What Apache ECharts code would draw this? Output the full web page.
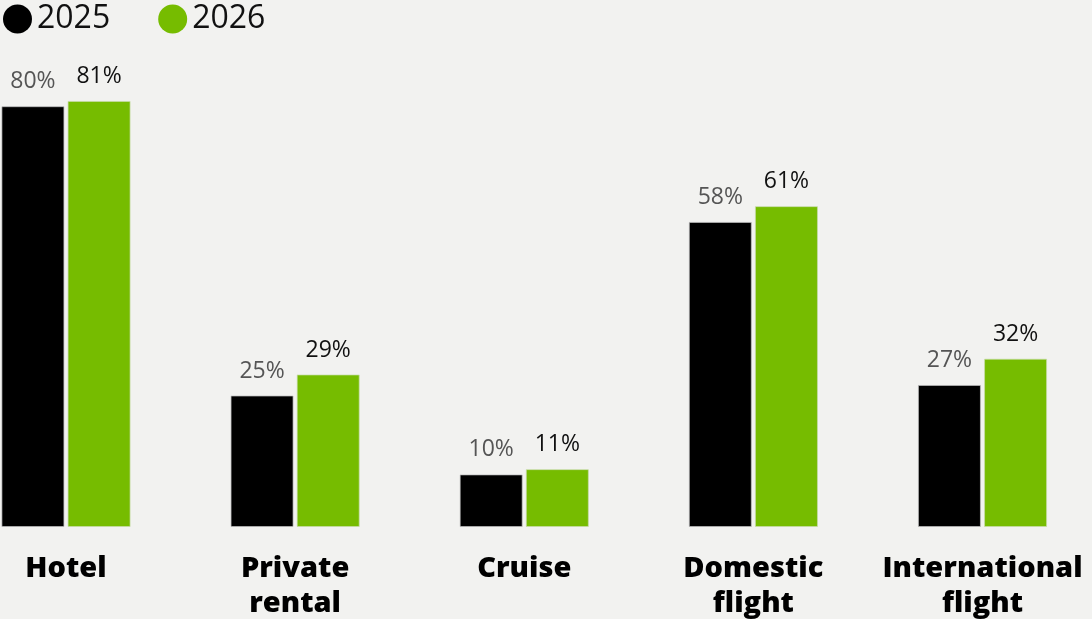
<!DOCTYPE html>
<html><head><meta charset="utf-8">
<script src="https://cdn.jsdelivr.net/npm/echarts@6/dist/echarts.min.js"></script>
<style>html,body{margin:0;padding:0;background:#f2f2f0;}#c{width:1092px;height:619px;}</style>
</head><body><div id="c"></div>
<script>
const categories = ['Hotel', 'Private\nrental', 'Cruise', 'Domestic\nflight', 'International\nflight'];
const seriesNames = ['2025', '2026'];
const values2025 = [80, 25, 10, 58, 27];
const values2026 = [81, 29, 11, 61, 32];

const chart = echarts.init(document.getElementById('c'));
const FONT = '"Open Sans", sans-serif';
chart.setOption({
  backgroundColor: '#f2f2f0',
  animation: false,
  textStyle: { fontFamily: FONT },
  legend: {
    left: 3, top: 3, padding: 0, icon: 'circle', itemWidth: 29, itemHeight: 29, itemGap: 48,
    itemStyle: { borderWidth: 0 },
    textStyle: { fontSize: 32, color: '#111', fontFamily: FONT },
    data: seriesNames
  },
  grid: { left: 66, right: 109.5, top: 1, height: 526, containLabel: false, outerBoundsMode: 'none' },
  xAxis: {
    type: 'category', data: categories, boundaryGap: false,
    axisLine: { show: false }, axisTick: { show: false }, splitLine: { show: false },
    axisLabel: { fontSize: 29, fontWeight: 800, color: '#000', lineHeight: 35, margin: 24, interval: 0, fontFamily: FONT }
  },
  yAxis: { type: 'value', min: 0, max: 100, show: false, splitLine: { show: false } },
  series: [
    { name: seriesNames[0], type: 'bar', data: values2025, barWidth: 63, barGap: '5%', clip: false,
      itemStyle: { color: '#000', borderColor: 'rgba(190,190,190,0.7)', borderWidth: 1 },
      label: { show: true, position: 'top', distance: 13, formatter: '{c}%', fontSize: 23, color: '#555', fontFamily: FONT } },
    { name: seriesNames[1], type: 'bar', data: values2026, barWidth: 63, clip: false,
      itemStyle: { color: '#76bc00', borderColor: 'rgba(200,220,170,0.7)', borderWidth: 1 },
      label: { show: true, position: 'top', distance: 13, formatter: '{c}%', fontSize: 23, color: '#111', fontFamily: FONT } }
  ]
});
</script></body></html>
